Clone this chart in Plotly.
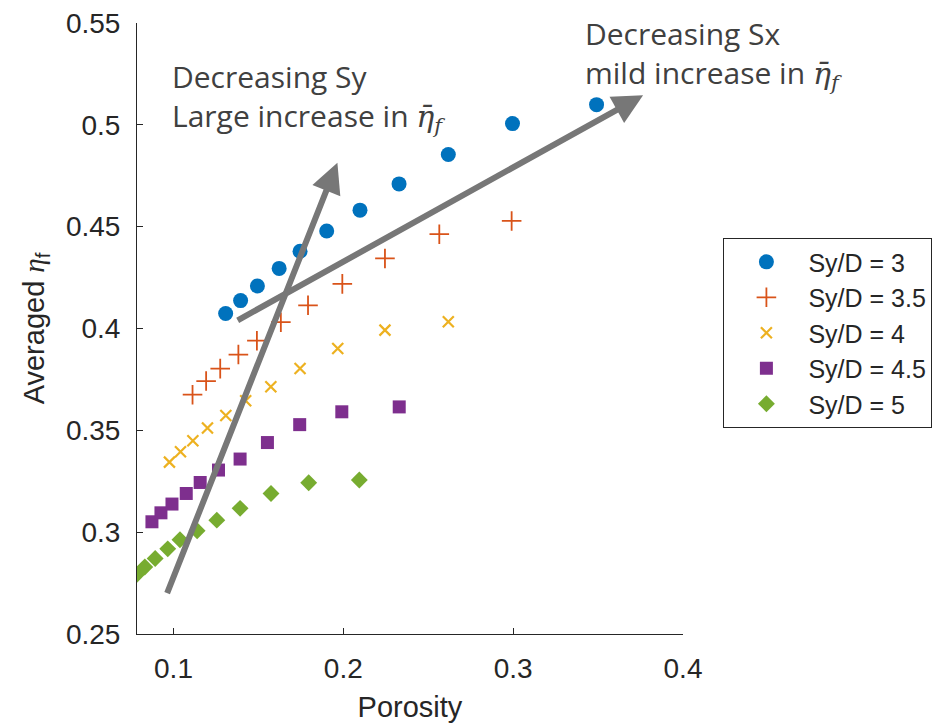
import plotly.graph_objects as go

# ---- data ----
series_names = ["Sy/D = 3", "Sy/D = 3.5", "Sy/D = 4", "Sy/D = 4.5", "Sy/D = 5"]

x_sy3 = [0.1307, 0.1395, 0.1494, 0.1622, 0.1745, 0.1902, 0.2098, 0.2328, 0.2618, 0.2996, 0.3491]
y_sy3 = [0.4074, 0.4137, 0.4209, 0.4295, 0.4379, 0.4479, 0.4581, 0.4710, 0.4854, 0.5006, 0.5099]

x_sy35 = [0.1112, 0.1192, 0.1275, 0.1382, 0.1491, 0.1632, 0.1792, 0.1994, 0.2245, 0.2565, 0.2991]
y_sy35 = [0.3675, 0.3742, 0.3803, 0.3872, 0.3940, 0.4031, 0.4114, 0.4219, 0.4344, 0.4463, 0.4528]

x_sy4 = [0.0976, 0.1041, 0.1114, 0.1200, 0.1308, 0.1425, 0.1573, 0.1745, 0.1967, 0.2245, 0.2618]
y_sy4 = [0.3344, 0.3395, 0.3449, 0.3511, 0.3573, 0.3645, 0.3714, 0.3804, 0.3902, 0.3992, 0.4033]

x_sy45 = [0.0873, 0.0926, 0.0991, 0.1075, 0.1157, 0.1265, 0.1392, 0.1553, 0.1743, 0.1991, 0.2329]
y_sy45 = [0.3051, 0.3095, 0.3138, 0.3190, 0.3244, 0.3305, 0.3359, 0.3440, 0.3528, 0.3591, 0.3615]

x_sy5 = [0.0783, 0.0831, 0.0892, 0.0966, 0.1038, 0.1139, 0.1255, 0.1392, 0.1574, 0.1796, 0.2094]
y_sy5 = [0.2792, 0.2829, 0.2871, 0.2918, 0.2963, 0.3007, 0.3059, 0.3117, 0.3190, 0.3243, 0.3256]

x_ticks = [0.1, 0.2, 0.3, 0.4]
x_ticklabels = ["0.1", "0.2", "0.3", "0.4"]
y_ticks = [0.25, 0.3, 0.35, 0.4, 0.45, 0.5, 0.55]
y_ticklabels = ["0.25", "0.3", "0.35", "0.4", "0.45", "0.5", "0.55"]

# arrow annotations (data coords): tail -> head
arrow_sy_tail = (0.0959, 0.2693)
arrow_sy_head = (0.1965, 0.4814)
arrow_sx_tail = (0.1369, 0.4036)
arrow_sx_head = (0.3765, 0.5145)

SERIF_A = "font-family:'DejaVu Serif',serif"
SERIF_Y = "font-family:'Liberation Serif','DejaVu Serif',serif"
eta_f = f"<span style=\"{SERIF_A}\"><i>η̄</i><sub><i>f</i></sub></span>"
text_sy = "Decreasing Sy<br>Large increase in " + eta_f
text_sx = "Decreasing Sx<br>mild increase in " + eta_f
y_title = f"Averaged <span style=\"{SERIF_Y}\"><i>η</i></span><sub>f</sub>"

# ---- styles ----
colors = ["#0072BD", "#D95319", "#EDB120", "#7E2F8E", "#77AC30"]
AX = "#262626"
SANS = "Liberation Sans, Arial"

fig = go.Figure()
fig.add_trace(go.Scatter(x=x_sy3, y=y_sy3, mode="markers", name=series_names[0],
                         marker=dict(symbol="circle", size=15, color=colors[0])))
fig.add_trace(go.Scatter(x=x_sy35, y=y_sy35, mode="markers", name=series_names[1],
                         marker=dict(symbol="cross-thin", size=14, color=colors[1],
                                     line=dict(color=colors[1], width=1.8))))
fig.add_trace(go.Scatter(x=x_sy4, y=y_sy4, mode="markers", name=series_names[2],
                         marker=dict(symbol="x-thin", size=11, color=colors[2],
                                     line=dict(color=colors[2], width=2.2))))
fig.add_trace(go.Scatter(x=x_sy45, y=y_sy45, mode="markers", name=series_names[3],
                         marker=dict(symbol="square", size=13, color=colors[3])))
fig.add_trace(go.Scatter(x=x_sy5, y=y_sy5, mode="markers", name=series_names[4],
                         marker=dict(symbol="diamond", size=13, color=colors[4])))

arrow_style = dict(showarrow=True, arrowhead=2, arrowsize=1.0, arrowwidth=6,
                   arrowcolor="#777777", text="", standoff=0, startstandoff=0,
                   xref="x", yref="y", axref="x", ayref="y")
fig.add_annotation(x=arrow_sy_head[0], y=arrow_sy_head[1],
                   ax=arrow_sy_tail[0], ay=arrow_sy_tail[1], **arrow_style)
fig.add_annotation(x=arrow_sx_head[0], y=arrow_sx_head[1],
                   ax=arrow_sx_tail[0], ay=arrow_sx_tail[1], **arrow_style)

txt_font = dict(family="Open Sans", size=30, color="#404040")
fig.add_annotation(x=0.060, y=0.879, xref="paper", yref="paper", text=text_sy,
                   showarrow=False, xanchor="left", yanchor="middle", align="left",
                   font=txt_font)
fig.add_annotation(x=0.816, y=0.949, xref="paper", yref="paper", text=text_sx,
                   showarrow=False, xanchor="left", yanchor="middle", align="left",
                   font=txt_font)

axis_common = dict(showline=True, linecolor=AX, linewidth=1, ticks="inside",
                   ticklen=6, tickcolor=AX, tickwidth=1, showgrid=False,
                   zeroline=False, mirror=False,
                   tickfont=dict(family=SANS, size=28, color=AX))

fig.update_xaxes(range=[0.0785, 0.4], tickvals=x_ticks, ticktext=x_ticklabels,
                 title=dict(text="Porosity", font=dict(family=SANS, size=29, color=AX),
                            standoff=14),
                 ticklabelstandoff=9, **axis_common)
fig.update_yaxes(range=[0.25, 0.55], tickvals=y_ticks, ticktext=y_ticklabels,
                 title=dict(text=y_title, font=dict(family=SANS, size=29, color=AX),
                            standoff=12),
                 ticklabelstandoff=10, **axis_common)

fig.update_layout(
    width=936, height=725,
    margin=dict(l=137, r=253, t=23, b=91, autoexpand=False),
    paper_bgcolor="white", plot_bgcolor="white",
    showlegend=True,
    legend=dict(x=1.074, y=0.648, xanchor="left", yanchor="top",
                bgcolor="white", bordercolor=AX, borderwidth=1,
                font=dict(family=SANS, size=25, color=AX),
                itemwidth=74),
)

fig.write_html("out.html")
